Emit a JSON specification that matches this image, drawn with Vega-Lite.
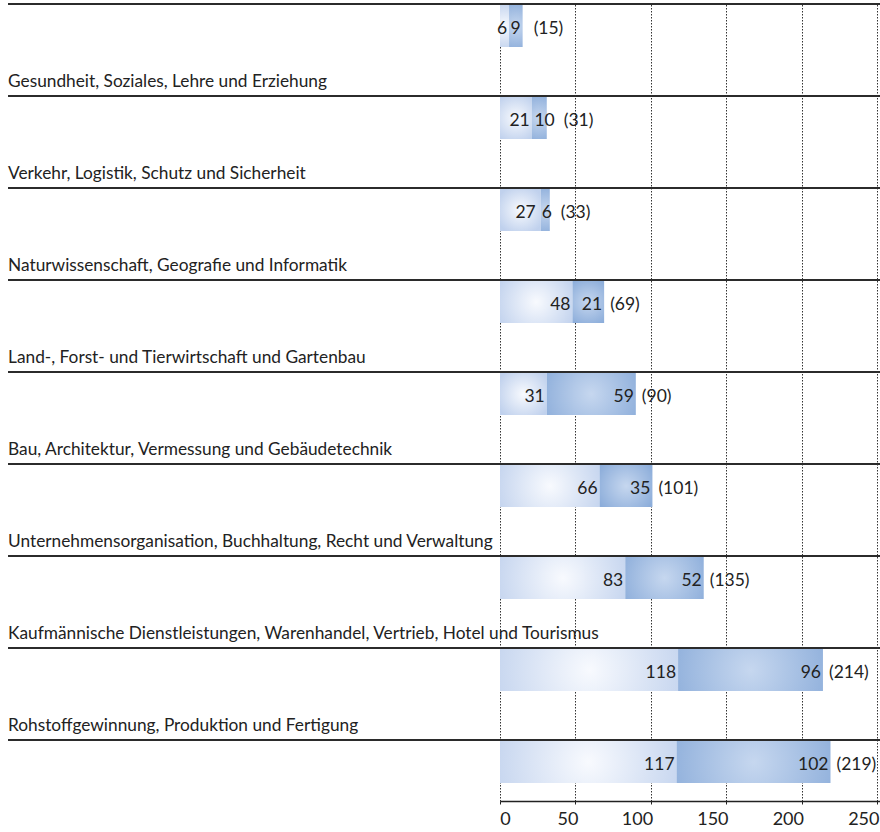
{
  "$schema": "https://vega.github.io/schema/vega-lite/v6.json",
  "autosize": {"type": "none"},
  "width": 380,
  "height": 797,
  "padding": {"left": 500, "top": 4, "right": 0, "bottom": 31},
  "background": "white",
  "config": {
    "view": {"stroke": null},
    "font": "Lato",
    "text": {"font": "Lato", "color": "#222222"}
  },
  "data": {
    "values": [
      {"nr": 1, "beruf": "", "a": 6, "b": 9, "gesamt": 15},
      {"nr": 2, "beruf": "Gesundheit, Soziales, Lehre und Erziehung", "a": 21, "b": 10, "gesamt": 31},
      {"nr": 3, "beruf": "Verkehr, Logistik, Schutz und Sicherheit", "a": 27, "b": 6, "gesamt": 33},
      {"nr": 4, "beruf": "Naturwissenschaft, Geografie und Informatik", "a": 48, "b": 21, "gesamt": 69},
      {"nr": 5, "beruf": "Land-, Forst- und Tierwirtschaft und Gartenbau", "a": 31, "b": 59, "gesamt": 90},
      {"nr": 6, "beruf": "Bau, Architektur, Vermessung und Gebäudetechnik", "a": 66, "b": 35, "gesamt": 101},
      {"nr": 7, "beruf": "Unternehmensorganisation, Buchhaltung, Recht und Verwaltung", "a": 83, "b": 52, "gesamt": 135},
      {"nr": 8, "beruf": "Kaufmännische Dienstleistungen, Warenhandel, Vertrieb, Hotel und Tourismus", "a": 118, "b": 96, "gesamt": 214},
      {"nr": 9, "beruf": "Rohstoffgewinnung, Produktion und Fertigung", "a": 117, "b": 102, "gesamt": 219}
    ]
  },
  "encoding": {
    "y": {
      "field": "nr",
      "type": "ordinal",
      "scale": {"type": "point", "padding": 0.3315, "align": 0.3607},
      "axis": null
    }
  },
  "layer": [
    {
      "mark": {"type": "rule", "strokeWidth": 2, "color": "#2b2b2b", "yOffset": -22},
      "encoding": {
        "x": {"datum": -326, "type": "quantitative", "scale": {"domain": [0, 251.8], "nice": false, "zero": false},
          "axis": {
            "values": [0, 50, 100, 150, 200, 250],
            "title": null,
            "grid": true,
            "gridDash": [1.5, 1.5],
            "gridColor": "#333333",
            "gridWidth": 1,
            "domain": true,
            "domainColor": "#222222",
            "domainWidth": 1.5,
            "ticks": true,
            "tickSize": 3,
            "tickColor": "#222222",
            "labelFont": "Lato",
            "labelFontSize": 18,
            "labelColor": "#222222",
            "labelPadding": 6,
            "labelFlush": false,
            "labelOverlap": false,
            "labelOffset": {
              "condition": [
                {"test": "datum.value == 0", "value": 5},
                {"test": "datum.value == 50", "value": -8}
              ],
              "value": -14
            }
          }
        },
        "x2": {"datum": 251.8}
      }
    },
    {
      "mark": {
        "type": "bar",
        "height": 42,
        "color": {
          "gradient": "radial",
          "x1": 0.5, "y1": 0.5, "r1": 0,
          "x2": 0.5, "y2": 0.5, "r2": 0.6,
          "stops": [
            {"offset": 0, "color": "#f8fafe"},
            {"offset": 1, "color": "#c0d1ed"}
          ]
        }
      },
      "encoding": {
        "x": {"field": "a", "type": "quantitative"}
      }
    },
    {
      "mark": {
        "type": "bar",
        "height": 42,
        "color": {
          "gradient": "radial",
          "x1": 0.5, "y1": 0.5, "r1": 0,
          "x2": 0.5, "y2": 0.5, "r2": 0.6,
          "stops": [
            {"offset": 0, "color": "#c6d7ef"},
            {"offset": 1, "color": "#8cadda"}
          ]
        }
      },
      "encoding": {
        "x": {"field": "a", "type": "quantitative"},
        "x2": {"field": "gesamt"}
      }
    },
    {
      "mark": {"type": "text", "align": "right", "baseline": "alphabetic", "dx": {"expr": "datum.b < 9 ? -5 : -2"}, "dy": 8, "fontSize": 17.5},
      "encoding": {
        "x": {"field": "a", "type": "quantitative"},
        "text": {"field": "a", "type": "quantitative"}
      }
    },
    {
      "mark": {"type": "text", "align": "right", "baseline": "alphabetic", "dx": {"expr": "datum.b < 9 ? 2 : (datum.b >= 10 && datum.b < 15) ? 8 : -2"}, "dy": 8, "fontSize": 17.5},
      "encoding": {
        "x": {"field": "gesamt", "type": "quantitative"},
        "text": {"field": "b", "type": "quantitative"}
      }
    },
    {
      "transform": [{"calculate": "'(' + datum.gesamt + ')'", "as": "gesamt_text"}],
      "mark": {"type": "text", "align": "left", "baseline": "alphabetic", "dx": {"expr": "datum.b <= 9 ? 11 : (datum.b >= 10 && datum.b < 15) ? 17 : 6"}, "dy": 8, "fontSize": 17.5},
      "encoding": {
        "x": {"field": "gesamt", "type": "quantitative"},
        "text": {"field": "gesamt_text", "type": "nominal"}
      }
    },
    {
      "mark": {"type": "text", "align": "left", "baseline": "alphabetic", "yOffset": -31, "fontSize": 17.3},
      "encoding": {
        "x": {"datum": -326, "type": "quantitative"},
        "text": {"field": "beruf", "type": "nominal"}
      }
    }
  ]
}
